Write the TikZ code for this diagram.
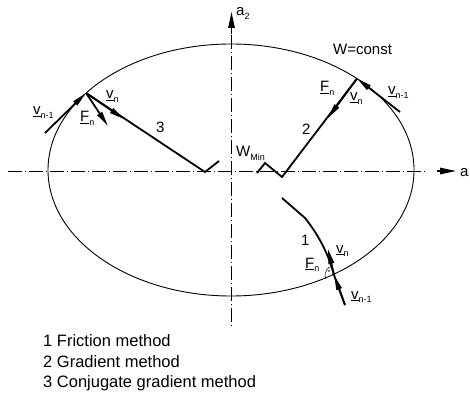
\documentclass[tikz,border=0pt]{standalone}
\usepackage{fontspec}
\setmainfont{Liberation Sans}
\usetikzlibrary{arrows.meta}
\newcommand\lsub[1]{\raisebox{-0.45ex}{\fontsize{9}{9}\selectfont #1}}
\begin{document}
\begin{tikzpicture}[x=1pt,y=-1pt,
  lbl/.style={font=\fontsize{15}{18}\selectfont, inner sep=0pt, anchor=base west},
  leg/.style={font=\fontsize{16.5}{19}\selectfont, inner sep=0pt, anchor=base west},
  axisline/.style={line width=0.5pt, dash pattern=on 14pt off 3pt on 1pt off 3pt},
  axisarrow/.style={line width=1.3pt, -{Triangle[length=16pt,width=6.5pt]}},
  pathline/.style={line width=1.8pt, line join=miter},
  vecarrow/.style={line width=1.8pt, -{Triangle[length=15pt,width=5.5pt]}},
  contour/.style={line width=0.9pt}]
\useasboundingbox (0,0) rectangle (470,395);
% axes
\coordinate (O) at (231.5,171);
\coordinate (HA) at (8,171);
\coordinate (HB) at (425,171);
\coordinate (VA) at (231.5,35);
\coordinate (VB) at (231.5,327);
\draw[axisline] (HA) -- (HB);
\draw[axisline] (VA) -- (VB);
\coordinate (HArr0) at (437,171);
\coordinate (HArr1) at (456,171);
\coordinate (VArr0) at (231.5,34);
\coordinate (VArr1) at (231.5,12);
\draw[axisarrow] (HArr0) -- (HArr1);
\draw[axisarrow] (VArr0) -- (VArr1);
% contour
\coordinate (C) at (231,170);
\draw[contour] (C) ellipse [x radius=183pt, y radius=126pt];
% path 3 (conjugate gradient)
\coordinate (P3) at (86,93);
\coordinate (M3a) at (205,172);
\coordinate (M3b) at (219,161);
\coordinate (Q3) at (45,133);
\coordinate (F3e) at (108,126);
\coordinate (V3e) at (124,119);
\draw[pathline] (P3) -- (M3a) -- (M3b);
\draw[vecarrow] (Q3) -- (P3);
\draw[vecarrow] (P3) -- (F3e);
\draw[vecarrow] (P3) -- (V3e);
% path 2 (gradient)
\coordinate (P2) at (357,78.5);
\coordinate (M2a) at (282,177);
\coordinate (M2b) at (265,163);
\coordinate (M2c) at (257,173);
\coordinate (Q2) at (400,112);
\coordinate (V2e) at (328,118);
\draw[pathline] (P2) -- (M2a) -- (M2b) -- (M2c);
\draw[vecarrow] (Q2) -- (P2);
\draw[vecarrow] (P2) -- (V2e);
% path 1 (friction)
\coordinate (S1) at (282,198);
\coordinate (K1) at (305,218);
\coordinate (P1) at (334,275);
\coordinate (Q1) at (345,305);
\coordinate (V1e) at (328,249);
\draw[pathline] (S1) -- (K1) .. controls (317,233) and (328,252) .. (P1) -- (Q1);
\draw[vecarrow] (Q1) -- (P1);
\draw[vecarrow] (P1) -- (V1e);
\draw[line width=0.5pt] (325.8,278.8) arc[start angle=205, end angle=103, radius=9pt];
\fill (329,271) circle (0.8pt);
% labels
\node[lbl] (a2) at (236,16) {a\lsub{2}};
\node[lbl] (a1) at (460,177) {a};
\node[lbl] (wc) at (333,55) {W=const};
\node[lbl] (wmin) at (236,157) {W\lsub{Min}};
\node[lbl] (v3p) at (33,115) {\underline{v}\lsub{n-1}};
\node[lbl] (F3) at (80,122) {\underline{F}\lsub{n}};
\node[lbl] (v3) at (106,99) {\underline{v}\lsub{n}};
\node[lbl] (n3) at (156,133) {3};
\node[lbl] (F2) at (320,92) {\underline{F}\lsub{n}};
\node[lbl] (v2) at (350,101) {\underline{v}\lsub{n}};
\node[lbl] (v2p) at (388,95) {\underline{v}\lsub{n-1}};
\node[lbl] (n2) at (302,135) {2};
\node[lbl] (n1) at (301,245) {1};
\node[lbl] (F1) at (305,268) {\underline{F}\lsub{n}};
\node[lbl] (v1) at (336,253) {\underline{v}\lsub{n}};
\node[lbl] (v1p) at (351,299) {\underline{v}\lsub{n-1}};
% legend
\node[leg] (l1) at (43,346) {1 Friction method};
\node[leg] (l2) at (43,367) {2 Gradient method};
\node[leg] (l3) at (43,387) {3 Conjugate gradient method};
\end{tikzpicture}
\end{document}
